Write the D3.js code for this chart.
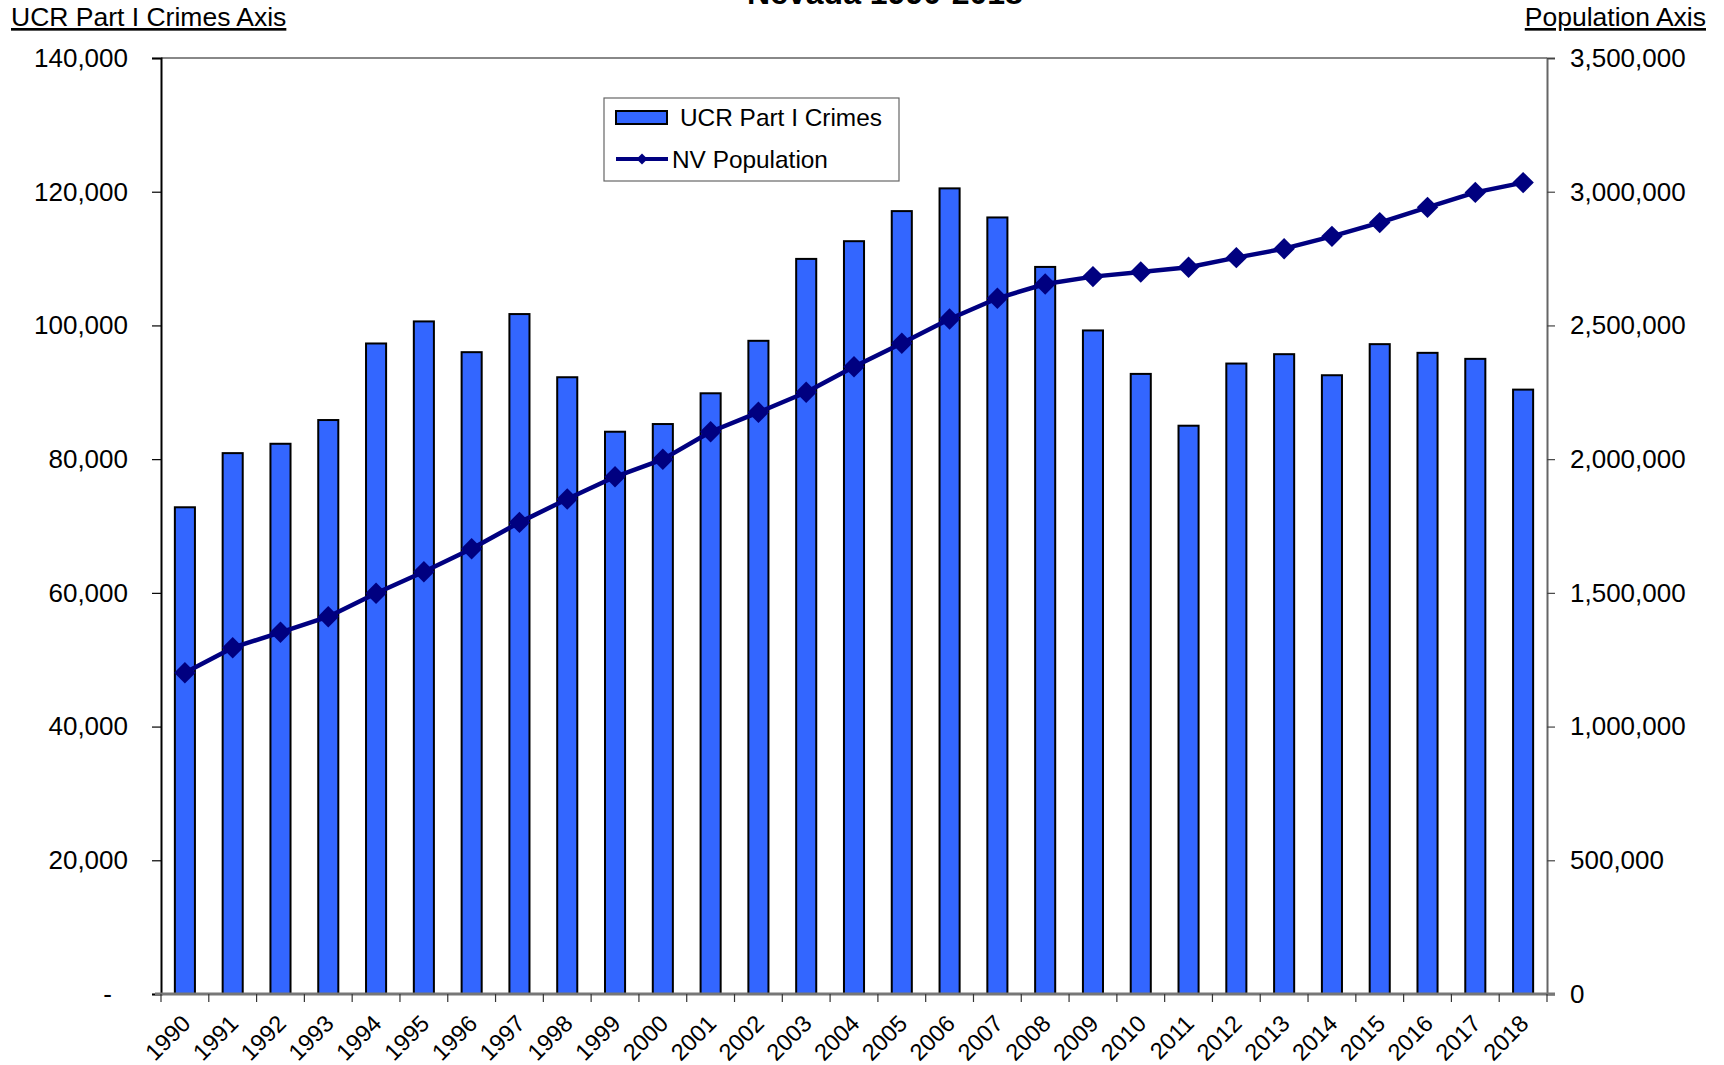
<!DOCTYPE html>
<html>
<head>
<meta charset="utf-8">
<script src="https://cdn.jsdelivr.net/npm/d3@7"></script>
<style>
  html, body { margin: 0; padding: 0; background: #fff; }
  svg { display: block; font-family: "Liberation Sans", Arial, sans-serif; }
</style>
</head>
<body>
<div id="chart"></div>
<script>
// Nevada UCR Part I crimes vs population, 1990-2018
const years = d3.range(1990, 2019).map(String);
const crimes = [
  72800, 80900, 82300, 85850, 97300, 100600, 96000, 101700, 92250, 84100,
  85250, 89850, 97700, 109950, 112600, 117100, 120500, 116150, 108750, 99250,
  92750, 85000, 94300, 95700, 92550, 97200, 95900, 95000, 90400
];
const population = [
  1201500, 1295000, 1352500, 1411000, 1498500, 1579000, 1665000, 1763500, 1851000, 1934000,
  1999300, 2102500, 2175000, 2250000, 2345500, 2433000, 2524000, 2601500, 2655000, 2682500,
  2700000, 2717500, 2753500, 2787000, 2833000, 2884500, 2941500, 2997500, 3034000
];
const leftTicks = [0, 20000, 40000, 60000, 80000, 100000, 120000, 140000];
const rightTicks = [0, 500000, 1000000, 1500000, 2000000, 2500000, 3000000, 3500000];

const WIDTH = 1724, HEIGHT = 1065;
const MARGIN = { top: 58, right: 177, bottom: 71, left: 161 };
const innerW = WIDTH - MARGIN.left - MARGIN.right;
const innerH = HEIGHT - MARGIN.top - MARGIN.bottom;

const BAR_FILL = '#3366FF';
const LINE_COLOR = '#000080';
const fmt = d3.format(',');

const svg = d3.select('#chart').append('svg')
  .attr('width', WIDTH)
  .attr('height', HEIGHT);

svg.append('rect').attr('width', WIDTH).attr('height', HEIGHT).attr('fill', '#fff');

const x = d3.scaleBand()
  .domain(years)
  .range([0, innerW])
  .paddingInner(0.58)
  .paddingOuter(0.29);
const step = x.step();

const y = d3.scaleLinear().domain([0, 140000]).range([innerH, 0]);
const yR = d3.scaleLinear().domain([0, 3500000]).range([innerH, 0]);

const g = svg.append('g').attr('transform', `translate(${MARGIN.left},${MARGIN.top})`);

// Title (cut off at the top like the original)
svg.append('text')
  .attr('x', 885)
  .attr('y', 4)
  .attr('text-anchor', 'middle')
  .attr('font-size', 32)
  .attr('font-weight', 'bold')
  .attr('fill', '#000')
  .text('Nevada 1990-2018');

// Axis titles
svg.append('text')
  .attr('x', 11).attr('y', 26)
  .attr('font-size', 26.5)
  .attr('text-decoration', 'underline')
  .attr('fill', '#000')
  .text('UCR Part I Crimes Axis');
svg.append('text')
  .attr('x', 1706).attr('y', 26)
  .attr('text-anchor', 'end')
  .attr('font-size', 26.5)
  .attr('text-decoration', 'underline')
  .attr('fill', '#000')
  .text('Population Axis');

// Plot frame: top border
g.append('line')
  .attr('x1', 0).attr('x2', innerW)
  .attr('y1', 0).attr('y2', 0)
  .attr('stroke', '#888').attr('stroke-width', 2);

// Bars
g.append('g')
  .selectAll('rect')
  .data(years)
  .join('rect')
  .attr('x', (d, i) => x(d))
  .attr('y', (d, i) => y(crimes[i]))
  .attr('width', x.bandwidth())
  .attr('height', (d, i) => innerH - y(crimes[i]))
  .attr('fill', BAR_FILL)
  .attr('stroke', '#000')
  .attr('stroke-width', 2);

// Left axis
const leftAxis = g.append('g')
  .call(d3.axisLeft(y).tickValues(leftTicks).tickSize(9).tickPadding(24)
    .tickFormat(d => d === 0 ? '-' : fmt(d)));
leftAxis.select('.domain').attr('stroke', '#000').attr('stroke-width', 2);
leftAxis.selectAll('.tick line').attr('stroke', '#000').attr('stroke-width', 1.2);
leftAxis.selectAll('.tick text')
  .attr('font-size', 26)
  .attr('font-family', '"Liberation Sans", Arial, sans-serif')
  .attr('fill', '#000')
  .attr('dx', d => d === 0 ? -16 : 0);

// Right axis
const rightAxis = g.append('g')
  .attr('transform', `translate(${innerW},0)`)
  .call(d3.axisRight(yR).tickValues(rightTicks).tickSize(8).tickPadding(15)
    .tickFormat(d => d === 0 ? '0' : fmt(d)));
rightAxis.select('.domain').attr('stroke', '#666').attr('stroke-width', 2);
rightAxis.selectAll('.tick line').attr('stroke', '#444').attr('stroke-width', 1.2);
rightAxis.selectAll('.tick text')
  .attr('font-size', 26)
  .attr('font-family', '"Liberation Sans", Arial, sans-serif')
  .attr('fill', '#000');

// Bottom axis line and boundary ticks
g.append('line')
  .attr('x1', -6).attr('x2', innerW + 8)
  .attr('y1', innerH).attr('y2', innerH)
  .attr('stroke', '#777').attr('stroke-width', 3);
const bounds = years.map(d => x(d) + x.bandwidth() / 2 - step / 2).concat([innerW]);
g.append('g')
  .selectAll('line')
  .data(bounds)
  .join('line')
  .attr('x1', d => d).attr('x2', d => d)
  .attr('y1', innerH).attr('y2', innerH + 8)
  .attr('stroke', '#333').attr('stroke-width', 1.2);

// Year labels, rotated
g.append('g')
  .selectAll('text')
  .data(years)
  .join('text')
  .attr('transform', d => `translate(${x(d) + x.bandwidth() / 2 + 7},${innerH + 31}) rotate(-45)`)
  .attr('text-anchor', 'end')
  .attr('font-size', 23.5)
  .attr('fill', '#000')
  .text(d => d);

// Population line
const line = d3.line()
  .x((d, i) => x(years[i]) + x.bandwidth() / 2)
  .y(d => yR(d));
g.append('path')
  .datum(population)
  .attr('d', line)
  .attr('fill', 'none')
  .attr('stroke', LINE_COLOR)
  .attr('stroke-width', 4.5)
  .attr('stroke-linejoin', 'round');

const diamond = d3.symbol(d3.symbolSquare, 230);
g.append('g')
  .selectAll('path')
  .data(population)
  .join('path')
  .attr('d', diamond)
  .attr('transform', (d, i) => `translate(${x(years[i]) + x.bandwidth() / 2},${yR(d)}) rotate(45)`)
  .attr('fill', LINE_COLOR);

// Legend
const legend = svg.append('g').attr('transform', 'translate(604,98)');
legend.append('rect')
  .attr('width', 295).attr('height', 83)
  .attr('fill', '#fff').attr('stroke', '#666').attr('stroke-width', 1.2);
legend.append('rect')
  .attr('x', 12).attr('y', 13).attr('width', 51).attr('height', 13)
  .attr('fill', BAR_FILL).attr('stroke', '#000').attr('stroke-width', 2);
legend.append('text')
  .attr('x', 76).attr('y', 28)
  .attr('font-size', 24.4).attr('fill', '#000')
  .text('UCR Part I Crimes');
legend.append('line')
  .attr('x1', 12).attr('x2', 64).attr('y1', 61).attr('y2', 61)
  .attr('stroke', LINE_COLOR).attr('stroke-width', 4);
legend.append('path')
  .attr('d', d3.symbol(d3.symbolSquare, 60))
  .attr('transform', 'translate(38,61) rotate(45)')
  .attr('fill', LINE_COLOR);
legend.append('text')
  .attr('x', 68).attr('y', 70)
  .attr('font-size', 24.4).attr('fill', '#000')
  .text('NV Population');
</script>
</body>
</html>
